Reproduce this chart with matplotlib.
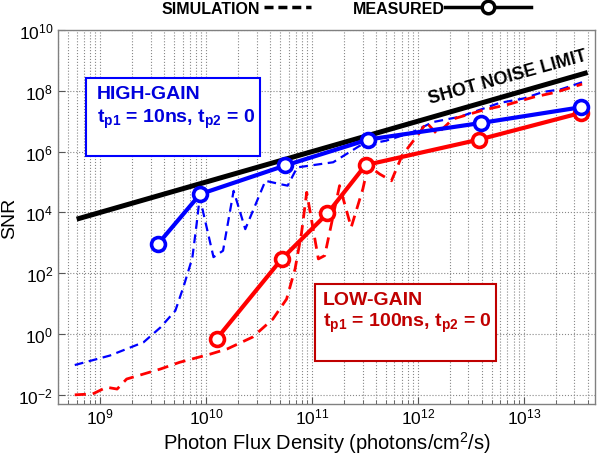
import numpy as np
import matplotlib
matplotlib.use("Agg")
import matplotlib.pyplot as plt
from matplotlib.lines import Line2D
from matplotlib.patches import Rectangle

plt.rcParams['font.family'] = ['Liberation Sans', 'DejaVu Sans']
plt.rcParams['mathtext.fontset'] = 'custom'
plt.rcParams['mathtext.rm'] = 'Liberation Sans'
plt.rcParams['mathtext.bf'] = 'Liberation Sans:bold'

# measured points (flux, SNR)
hg_flux = [3.5e9, 8.8e9, 5.6e10, 3.4e11, 3.9e12, 3.5e13]
hg_snr = [9e2, 4e4, 3.5e5, 2.5e6, 8.7e6, 2.9e7]
lg_flux = [1.26e10, 5.2e10, 1.4e11, 3.2e11, 3.8e12, 3.5e13]
lg_snr = [0.7, 3e2, 9.3e3, 3.6e5, 2.5e6, 1.9e7]

# simulation curves, log10 values
hg_sim_logx = [8.76, 9.09, 9.41, 9.57, 9.71, 9.79, 9.87, 9.91, 9.94, 10.07, 10.16,
               10.26, 10.37, 10.56, 10.70, 10.77, 10.86, 11.20, 11.45, 11.70, 11.95,
               12.14, 12.40, 12.77, 13.00, 13.18, 13.35, 13.55]
hg_sim_logy = [-1.02, -0.71, -0.27, 0.22, 0.77, 1.59, 2.5, 3.6, 4.5, 2.53, 2.74,
               4.71, 3.45, 5.04, 4.93, 4.88, 5.48, 5.65, 6.19, 6.36, 6.64,
               6.97, 7.15, 7.60, 7.75, 7.96, 8.05, 8.28]
lg_sim_logx = [8.76, 8.93, 9.06, 9.16, 9.25, 9.57, 9.75, 10.04, 10.20, 10.44, 10.63,
               10.76, 10.84, 10.90, 10.95, 11.06, 11.12, 11.26, 11.37, 11.48, 11.53,
               11.64, 11.75, 11.85, 12.02, 12.08, 12.18, 12.33, 12.60, 12.85, 13.10,
               13.30, 13.55]
lg_sim_logy = [-2.0, -1.97, -1.75, -1.81, -1.48, -1.15, -0.93, -0.66, -0.49, -0.10, 0.49,
               1.15, 2.14, 3.3, 4.66, 2.47, 2.58, 4.88, 3.51, 4.77, 5.54,
               5.26, 5.04, 5.87, 6.64, 6.96, 6.58, 7.07, 7.35, 7.55, 7.80,
               7.95, 8.22]

# shot noise limit
shot_flux = [6e8, 4e13]
shot_snr = [6e3, 4e8]

fig = plt.figure(figsize=(6, 4.6), dpi=100)
ax = fig.add_axes([0.0967, 0.1196, 0.895, 0.813])

ax.plot(10 ** np.array(hg_sim_logx), 10 ** np.array(hg_sim_logy), color='#0000ff',
        lw=1.6, ls=(0, (4, 2.5)), zorder=3)
ax.plot(10 ** np.array(lg_sim_logx), 10 ** np.array(lg_sim_logy), color='#ff0000',
        lw=2.0, ls=(0, (4, 2.5)), zorder=3)
ax.plot(shot_flux, shot_snr, color='black', lw=3.6, solid_capstyle='butt', zorder=4)
ax.plot(lg_flux, lg_snr, color='#ff0000', lw=3, marker='o', ms=10, mfc='white',
        mec='#ff0000', mew=2.6, zorder=5)
ax.plot(hg_flux, hg_snr, color='#0000ff', lw=3, marker='o', ms=10, mfc='white',
        mec='#0000ff', mew=2.6, zorder=6)

ax.set_xscale('log')
ax.set_yscale('log')
ax.set_xlim(4.0e8, 4.7e13)
ax.set_ylim(5e-3, 1e10)
ax.set_yticks([1e-2, 1e0, 1e2, 1e4, 1e6, 1e8, 1e10])
ax.yaxis.set_minor_locator(matplotlib.ticker.NullLocator())
ax.set_xticks([1e9, 1e10, 1e11, 1e12, 1e13])
ax.xaxis.set_minor_locator(matplotlib.ticker.LogLocator(base=10, subs=np.arange(2, 10)))
ax.xaxis.set_minor_formatter(matplotlib.ticker.NullFormatter())
ax.tick_params(which='both', direction='in', labelsize=12.5, colors='#555555',
               labelcolor='black', top=False, right=False)
ax.tick_params(which='major', length=5)
ax.tick_params(which='minor', length=3)
ax.tick_params(axis='x', pad=2)
ax.grid(True, which='major', ls=':', color='#888888', lw=0.8)
ax.grid(True, which='minor', axis='x', ls=':', color='#888888', lw=0.8)
for s in ax.spines.values():
    s.set_color('#808080')
    s.set_linewidth(1)

ax.set_xlabel('Photon Flux Density (photons/cm$^2$/s)', fontsize=14.5, labelpad=2)
ax.set_ylabel('SNR', fontsize=14, labelpad=0)

# annotation boxes
ax.add_patch(Rectangle((0.052, 0.663), 0.324, 0.209, transform=ax.transAxes,
                       facecolor='white', edgecolor='#0000ff', lw=1.5, zorder=7))
ax.text(0.0726, 0.830, 'HIGH-GAIN', transform=ax.transAxes, color='#0000dd',
        fontsize=14, fontweight='bold', va='center', zorder=8)
ax.text(0.0726, 0.765, r't$_{\mathbf{p1}}$ = 10ns, t$_{\mathbf{p2}}$ = 0',
        transform=ax.transAxes, color='#0000dd', fontsize=14, fontweight='bold',
        va='center', zorder=8)

ax.add_patch(Rectangle((0.479, 0.115), 0.337, 0.206, transform=ax.transAxes,
                       facecolor='white', edgecolor='#c00000', lw=1.5, zorder=7))
ax.text(0.4935, 0.279, 'LOW-GAIN', transform=ax.transAxes, color='#c00000',
        fontsize=14, fontweight='bold', va='center', zorder=8)
ax.text(0.4935, 0.219, r't$_{\mathbf{p1}}$ = 100ns, t$_{\mathbf{p2}}$ = 0',
        transform=ax.transAxes, color='#c00000', fontsize=14, fontweight='bold',
        va='center', zorder=8)

ax.text(0.838, 0.875, 'SHOT NOISE LIMIT', transform=ax.transAxes, fontsize=13,
        fontweight='bold', rotation=15.5, ha='center', va='center', zorder=8)

# top legend, label first then line
sim_h = Line2D([], [], color='black', lw=2.5, ls=(0, (2.6, 1.4)))
meas_h = Line2D([], [], color='black', lw=2.5, marker='o', ms=9, mfc='white',
                mec='black', mew=2.5)
fig.legend([sim_h], ['SIMULATION'], markerfirst=False, frameon=False,
           loc='center left', bbox_to_anchor=(162 / 600, 1 - 9 / 460),
           borderpad=0, borderaxespad=0, handletextpad=0.25, handlelength=2.9,
           prop={'weight': 'bold', 'size': 11.5})
fig.legend([meas_h], ['MEASURED'], markerfirst=False, frameon=False,
           loc='center left', bbox_to_anchor=(353 / 600, 1 - 9 / 460),
           borderpad=0, borderaxespad=0, handletextpad=0.0, handlelength=5.4,
           numpoints=1, prop={'weight': 'bold', 'size': 11.5})

fig.savefig('out.png', dpi=100)
